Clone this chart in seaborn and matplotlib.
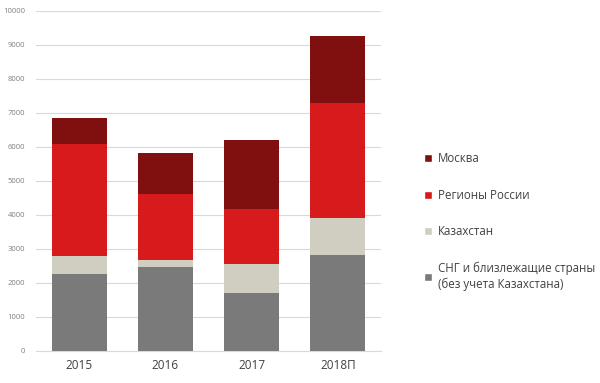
import numpy as np
import pandas as pd
import matplotlib
matplotlib.use('Agg')
import matplotlib.pyplot as plt
import seaborn as sns
from matplotlib.patches import Patch

sns.set_style('white')
plt.rcParams['font.family'] = ['Open Sans', 'DejaVu Sans']

# Data
years = ['2015', '2016', '2017', '2018П']
cis = [2260, 2460, 1710, 2820]
kazakhstan = [540, 225, 835, 1085]
regions = [3290, 1935, 1625, 3395]
moscow = [755, 1215, 2045, 1970]

series = [
    ('СНГ и близлежащие страны\n(без учета Казахстана)', cis, '#7a7a7a'),
    ('Казахстан', kazakhstan, '#d0cec0'),
    ('Регионы России', regions, '#d71a1c'),
    ('Москва', moscow, '#801010'),
]

fig = plt.figure(figsize=(6, 3.83), dpi=100)
ax = fig.add_axes([0.06, 0.0836, 0.575, 0.888])

bottom = np.zeros(len(years))
for name, vals, col in series:
    df = pd.DataFrame({'year': years, 'value': vals})
    sns.barplot(data=df, x='year', y='value', color=col, bottom=bottom,
                width=0.64, saturation=1, linewidth=0, ax=ax, zorder=3)
    bottom += np.array(vals)

ax.set_xlim(-0.5, 3.5)
ax.set_ylim(0, 10000)
ax.set_yticks(range(0, 10001, 1000))
ax.yaxis.grid(True, color='#d9d9d9', linewidth=0.8, zorder=0)
ax.set_axisbelow(True)
for s in ['top', 'right', 'left']:
    ax.spines[s].set_visible(False)
ax.spines['bottom'].set_color('#d9d9d9')
ax.set_xlabel('')
ax.set_ylabel('')
ax.tick_params(axis='y', labelsize=5.5, colors='#7f7f7f', length=0, pad=8)
ax.tick_params(axis='x', labelsize=8.5, colors='#404040', length=0, pad=6)

handles = [Patch(facecolor=c, label=n) for n, _, c in reversed(series)]
fig.legend(handles=handles, loc='upper left', bbox_to_anchor=(0.69, 0.63),
           frameon=False, fontsize=8.3, labelspacing=2.05,
           handlelength=0.7, handleheight=0.7, handletextpad=0.45,
           labelcolor='#404040')

fig.savefig('out.png', dpi=100)
